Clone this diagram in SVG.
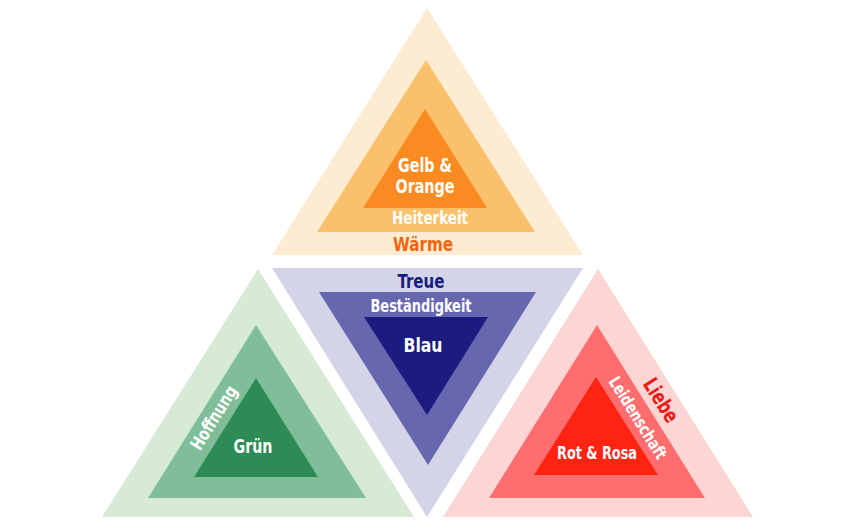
<svg xmlns="http://www.w3.org/2000/svg" width="864" height="529" viewBox="0 0 864 529">
<style>
text{font-family:"DejaVu Sans Condensed","Liberation Sans Narrow","Liberation Sans",sans-serif;font-weight:bold;text-anchor:middle}
.w{fill:#ffffff}
</style>
<rect width="864" height="529" fill="#ffffff"/>
<g id="gelb">
<polygon points="427,8 272,255 583,255" fill="#FDEBD2"/>
<polygon points="426,60 317,232 535,232" fill="#FBC06B"/>
<polygon points="425,109 363,208 487,208" fill="#F98B22"/>
<text class="w" x="425" y="172" font-size="19" textLength="54" lengthAdjust="spacingAndGlyphs">Gelb &amp;</text>
<text class="w" x="425" y="193" font-size="19" textLength="59" lengthAdjust="spacingAndGlyphs">Orange</text>
<text class="w" x="430" y="224" font-size="18" textLength="76" lengthAdjust="spacingAndGlyphs">Heiterkeit</text>
<text x="423" y="251" font-size="20" fill="#F2650F" textLength="60" lengthAdjust="spacingAndGlyphs">Wärme</text>
</g>
<g id="blau">
<polygon points="272,268 583,268 427,517" fill="#D4D4E8"/>
<polygon points="319,292 536,292 428,465" fill="#6767AF"/>
<polygon points="364,317 488,317 427,415" fill="#1C1C80"/>
<text x="421" y="288" font-size="20" fill="#1C1C80" textLength="47" lengthAdjust="spacingAndGlyphs">Treue</text>
<text class="w" x="421" y="312" font-size="18" textLength="101" lengthAdjust="spacingAndGlyphs">Beständigkeit</text>
<text class="w" x="423" y="352" font-size="20" textLength="39" lengthAdjust="spacingAndGlyphs">Blau</text>
</g>
<g id="gruen">
<polygon points="258,269 102,517 414,517" fill="#D6EAD6"/>
<polygon points="256,325 148,498 366,498" fill="#7FBE98"/>
<polygon points="256,378 194,477 318,477" fill="#2D8C56"/>
<text class="w" x="253" y="453" font-size="19" textLength="39" lengthAdjust="spacingAndGlyphs">Grün</text>
<text class="w" transform="translate(219,421) rotate(-58)" x="0" y="0" font-size="18" textLength="72" lengthAdjust="spacingAndGlyphs">Hoffnung</text>
</g>
<g id="rot">
<polygon points="598,269 443,517 753,517" fill="#FCD5D5"/>
<polygon points="597,325 489,498 705,498" fill="#FF6E6E"/>
<polygon points="596,377 534,475 658,475" fill="#FF2311"/>
<text class="w" x="597" y="459" font-size="17" textLength="80" lengthAdjust="spacingAndGlyphs">Rot &amp; Rosa</text>
<text class="w" transform="translate(633,421) rotate(58)" x="0" y="0" font-size="17" textLength="94" lengthAdjust="spacingAndGlyphs">Leidenschaft</text>
<text transform="translate(655,404) rotate(58)" x="0" y="0" font-size="21" fill="#E81C16" textLength="48" lengthAdjust="spacingAndGlyphs">Liebe</text>
</g>
<g id="connectors"></g>
</svg>
